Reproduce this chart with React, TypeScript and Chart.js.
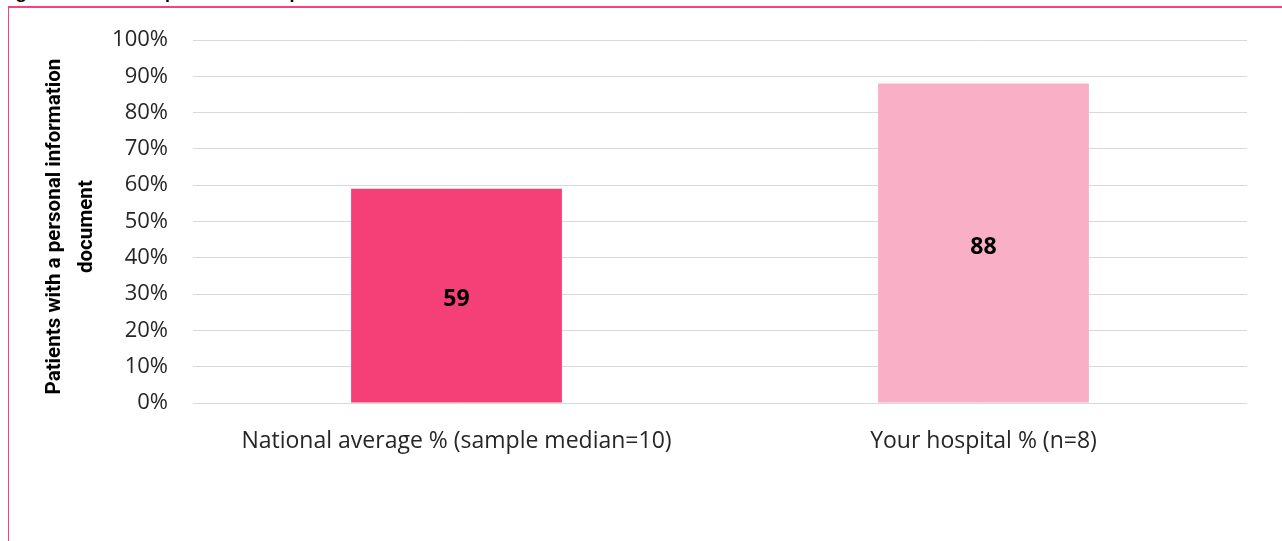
import React, { useEffect, useRef } from "react";
import { Chart, registerables } from "chart.js";

Chart.register(...registerables);

const categories = ["National average % (sample median=10)", "Your hospital % (n=8)"];
const values = [59, 88];
const barColors = ["#F43F77", "#F9AFC6"];
const yTitle = ["Patients with a personal information  ", "document  "];
const headerText = "Figure 5: Results for patients with a personal information document";

const FONT = "'Open Sans', 'DejaVu Sans', sans-serif";
const TITLE_FONT = "Roboto, 'Open Sans', sans-serif";

const dataLabelPlugin = {
  id: "dataLabels",
  afterDatasetsDraw(chart: any) {
    const ctx = chart.ctx;
    const meta = chart.getDatasetMeta(0);
    ctx.save();
    ctx.font = `bold 23px ${FONT}`;
    ctx.fillStyle = "#000";
    ctx.textAlign = "center";
    ctx.textBaseline = "middle";
    meta.data.forEach((bar: any, i: number) => {
      const { x, y, base } = bar.getProps(["x", "y", "base"], true);
      ctx.fillText(String(values[i]), x, (y + base) / 2 + 4);
    });
    ctx.restore();
  },
};

export default function App() {
  const ref = useRef<HTMLCanvasElement | null>(null);
  useEffect(() => {
    if (!ref.current) return;
    const padLeft = 39;
    const chart = new Chart(ref.current, {
      type: "bar",
      data: {
        labels: categories,
        datasets: [
          {
            data: values,
            backgroundColor: barColors,
            borderWidth: 0,
            categoryPercentage: 0.8,
            barPercentage: 0.5,
          },
        ],
      },
      options: {
        responsive: false,
        animation: false,
        devicePixelRatio: 1,
        layout: { padding: { left: padLeft, top: 40, right: 35, bottom: 0 } },
        plugins: { legend: { display: false }, tooltip: { enabled: false } },
        scales: {
          x: {
            grid: { display: false, drawTicks: false },
            border: { display: false },
            ticks: {
              padding: 25,
              color: "#262626",
              font: { family: FONT, size: 23 },
              maxRotation: 0,
              autoSkip: false,
            },
            afterFit(scale: any) {
              scale.height = 138;
            },
          },
          y: {
            min: 0,
            max: 100,
            grid: { color: "#d9d9d9", lineWidth: 1, drawTicks: false },
            border: { display: false },
            ticks: {
              stepSize: 10,
              padding: 25,
              color: "#262626",
              font: { family: FONT, size: 22 },
              callback: (v: any) => v + "%",
            },
            title: {
              display: true,
              text: yTitle,
              color: "#000",
              padding: { top: 0, bottom: 0 },
              font: { family: TITLE_FONT, size: 20.6, weight: "bold", lineHeight: 1.55 },
            },
            afterFit(scale: any) {
              scale.width = 193 - padLeft;
            },
          },
        },
      },
      plugins: [dataLabelPlugin],
    });
    return () => chart.destroy();
  }, []);

  return (
    <div
      style={{
        position: "fixed",
        left: 0,
        top: 0,
        width: 1282,
        height: 541,
        overflow: "hidden",
        background: "#fff",
      }}
    >
      <div
        style={{
          position: "absolute",
          left: 3,
          top: -19,
          whiteSpace: "nowrap",
          fontFamily: FONT,
          fontWeight: "bold",
          fontSize: 16,
          lineHeight: "22px",
          color: "#000",
        }}
      >
        {headerText}
      </div>
      <div
        style={{
          position: "absolute",
          left: 8,
          top: 6,
          width: 1400,
          height: 700,
          borderTop: "2px solid #F2457C",
          borderLeft: "1px solid #F2457C",
          boxSizing: "border-box",
        }}
      />
      <canvas
        ref={ref}
        width={1282}
        height={541}
        style={{ position: "absolute", left: 0, top: 0, width: 1282, height: 541 }}
      />
    </div>
  );
}
